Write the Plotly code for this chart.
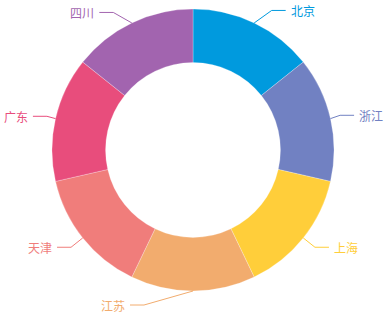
import math
import plotly.graph_objects as go

# ---- data ----
cities = ["北京", "浙江", "上海", "江苏", "天津", "广东", "四川"]
values = [1, 1, 1, 1, 1, 1, 1]
colors = ["#009ADE", "#7181C2", "#FFCE3A", "#F2AC6E", "#F07D7B", "#E84D7C", "#A264AF"]

# ---- layout constants (pixels) ----
W, H = 384, 314
CX, CY, R = 193, 150, 141
HOLE = 0.62
LEN1, LEN2, GAP = 15, 14, 3
# per-label elbow nudges (label-layout adjustment, pixels)
NUDGE = {"北京": (11, 1), "浙江": (-5, 0), "江苏": (-49, -1), "广东": (6, 1), "四川": (-12, 3)}
FONT = "Noto Sans CJK SC, Noto Sans, sans-serif"

def px(x):
    return x / W

def py(y):
    return 1 - y / H

fig = go.Figure(go.Pie(
    labels=cities,
    values=values,
    marker=dict(colors=colors, line=dict(color="rgba(255,255,255,0.5)", width=0.5)),
    hole=HOLE,
    sort=False,
    direction="clockwise",
    rotation=0,
    textinfo="none",
    hoverinfo="label+value+percent",
    domain=dict(x=[px(CX - R), px(CX + R)], y=[py(CY + R), py(CY - R)]),
    showlegend=False,
))

total = sum(values)
cum = 0
shapes = []
annotations = []
for name, v, c in zip(cities, values, colors):
    theta = (cum + v / 2) / total * 2 * math.pi
    cum += v
    sx, sy = CX + R * math.sin(theta), CY - R * math.cos(theta)
    ex, ey = CX + (R + LEN1) * math.sin(theta), CY - (R + LEN1) * math.cos(theta)
    dx, dy = NUDGE.get(name, (0, 0))
    ex, ey = ex + dx, ey + dy
    right = ex > CX
    hx = ex + LEN2 if right else ex - LEN2
    path = f"M {px(sx)},{py(sy)} L {px(ex)},{py(ey)} L {px(hx)},{py(ey)}"
    shapes.append(dict(type="path", xref="paper", yref="paper", path=path,
                       line=dict(color=c, width=1)))
    tx = hx + GAP if right else hx - GAP
    annotations.append(dict(
        x=px(tx), y=py(ey), xref="paper", yref="paper", text=name,
        showarrow=False, xanchor="left" if right else "right", yanchor="middle",
        font=dict(family=FONT, size=12, color=c),
    ))

fig.update_layout(
    width=W, height=H,
    margin=dict(l=0, r=0, t=0, b=0),
    paper_bgcolor="white", plot_bgcolor="white",
    shapes=shapes, annotations=annotations,
)

fig.write_html("out.html")
